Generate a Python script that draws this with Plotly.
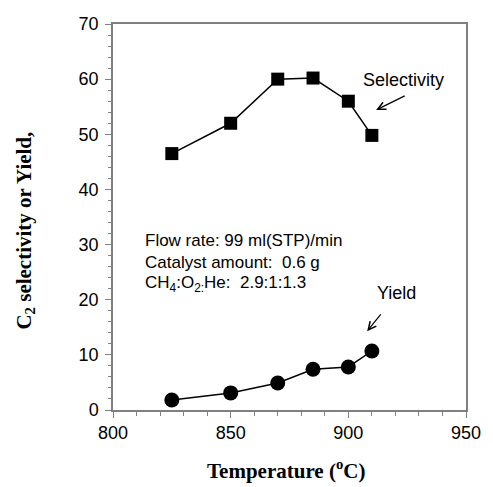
import plotly.graph_objects as go

temp = [825, 850, 870, 885, 900, 910]
selectivity = [46.5, 52.0, 60.0, 60.2, 56.0, 49.8]
yield_ = [1.8, 3.1, 4.9, 7.4, 7.8, 10.7]

x_ticks = [800, 850, 900, 950]
y_ticks = [0, 10, 20, 30, 40, 50, 60, 70]

info_lines = ["Flow rate: 99 ml(STP)/min",
              "Catalyst amount:  0.6 g",
              "CH<sub>4</sub>:O<sub>2:</sub>He:  2.9:1:1.3"]
info_y = [30.8, 26.8, 22.9]

fig = go.Figure()
fig.add_trace(go.Scatter(x=temp, y=selectivity, mode="lines+markers",
                         line=dict(color="black", width=1.5),
                         marker=dict(symbol="square", size=13, color="black"),
                         showlegend=False, cliponaxis=False))
fig.add_trace(go.Scatter(x=temp, y=yield_, mode="lines+markers",
                         line=dict(color="black", width=1.5),
                         marker=dict(symbol="circle", size=15, color="black"),
                         showlegend=False, cliponaxis=False))

axis_font = dict(family="Liberation Sans, Arial", size=18, color="black")
fig.update_xaxes(range=[800, 950], tickvals=x_ticks, ticks="outside", ticklen=6,
                 tickcolor="#808080", showline=True, linecolor="#808080", linewidth=1.5,
                 mirror=True, showgrid=False, zeroline=False, tickfont=axis_font,
                 minor=dict(dtick=10, tick0=800, ticks="outside", ticklen=4, tickcolor="#808080"))
fig.update_yaxes(range=[0, 70], tickvals=y_ticks, ticks="outside", ticklen=6,
                 tickcolor="#808080", showline=True, linecolor="#808080", linewidth=1.5,
                 mirror=True, showgrid=False, zeroline=False, tickfont=axis_font,
                 ticklabelstandoff=3,
                 minor=dict(dtick=2, tick0=0, ticks="outside", ticklen=3, tickcolor="#808080"))

title_font = dict(family="Liberation Serif, Times New Roman", size=21, color="black")
annotations = [
    dict(text="<b>Temperature (<sup>o</sup>C)</b>", xref="paper", yref="paper",
         x=0.49, y=-0.155, xanchor="center", yanchor="middle", showarrow=False, font=title_font),
    dict(text="<b>C<sub>2</sub> selectivity or Yield,</b>", xref="paper", yref="paper",
         x=-0.252, y=0.465, xanchor="center", yanchor="middle", textangle=-90,
         showarrow=False, font=title_font),
    dict(text="Selectivity", x=923.4, y=59.9, xref="x", yref="y", showarrow=False,
         font=dict(family="Liberation Sans, Arial", size=18, color="black")),
    dict(text="", x=911.8, y=54.4, ax=924.6, ay=57.1, axref="x", ayref="y",
         xref="x", yref="y", showarrow=True, arrowhead=5, arrowsize=1.3, arrowwidth=1.2,
         arrowcolor="black"),
    dict(text="Yield", x=920.5, y=21.2, xref="x", yref="y", showarrow=False,
         font=dict(family="Liberation Sans, Arial", size=18, color="black")),
    dict(text="", x=908.0, y=14.3, ax=914.3, ay=17.6, axref="x", ayref="y",
         xref="x", yref="y", showarrow=True, arrowhead=5, arrowsize=1.3, arrowwidth=1.2,
         arrowcolor="black"),
]
for line, yy in zip(info_lines, info_y):
    annotations.append(dict(text=line, x=812.9, y=yy, xref="x", yref="y",
                            xanchor="left", yanchor="middle", showarrow=False,
                            font=dict(family="Liberation Sans, Arial", size=17, color="black")))

fig.update_layout(width=493, height=487, margin=dict(l=113, r=19, t=24, b=77),
                  plot_bgcolor="white", paper_bgcolor="white", annotations=annotations)

fig.write_html("out.html")
